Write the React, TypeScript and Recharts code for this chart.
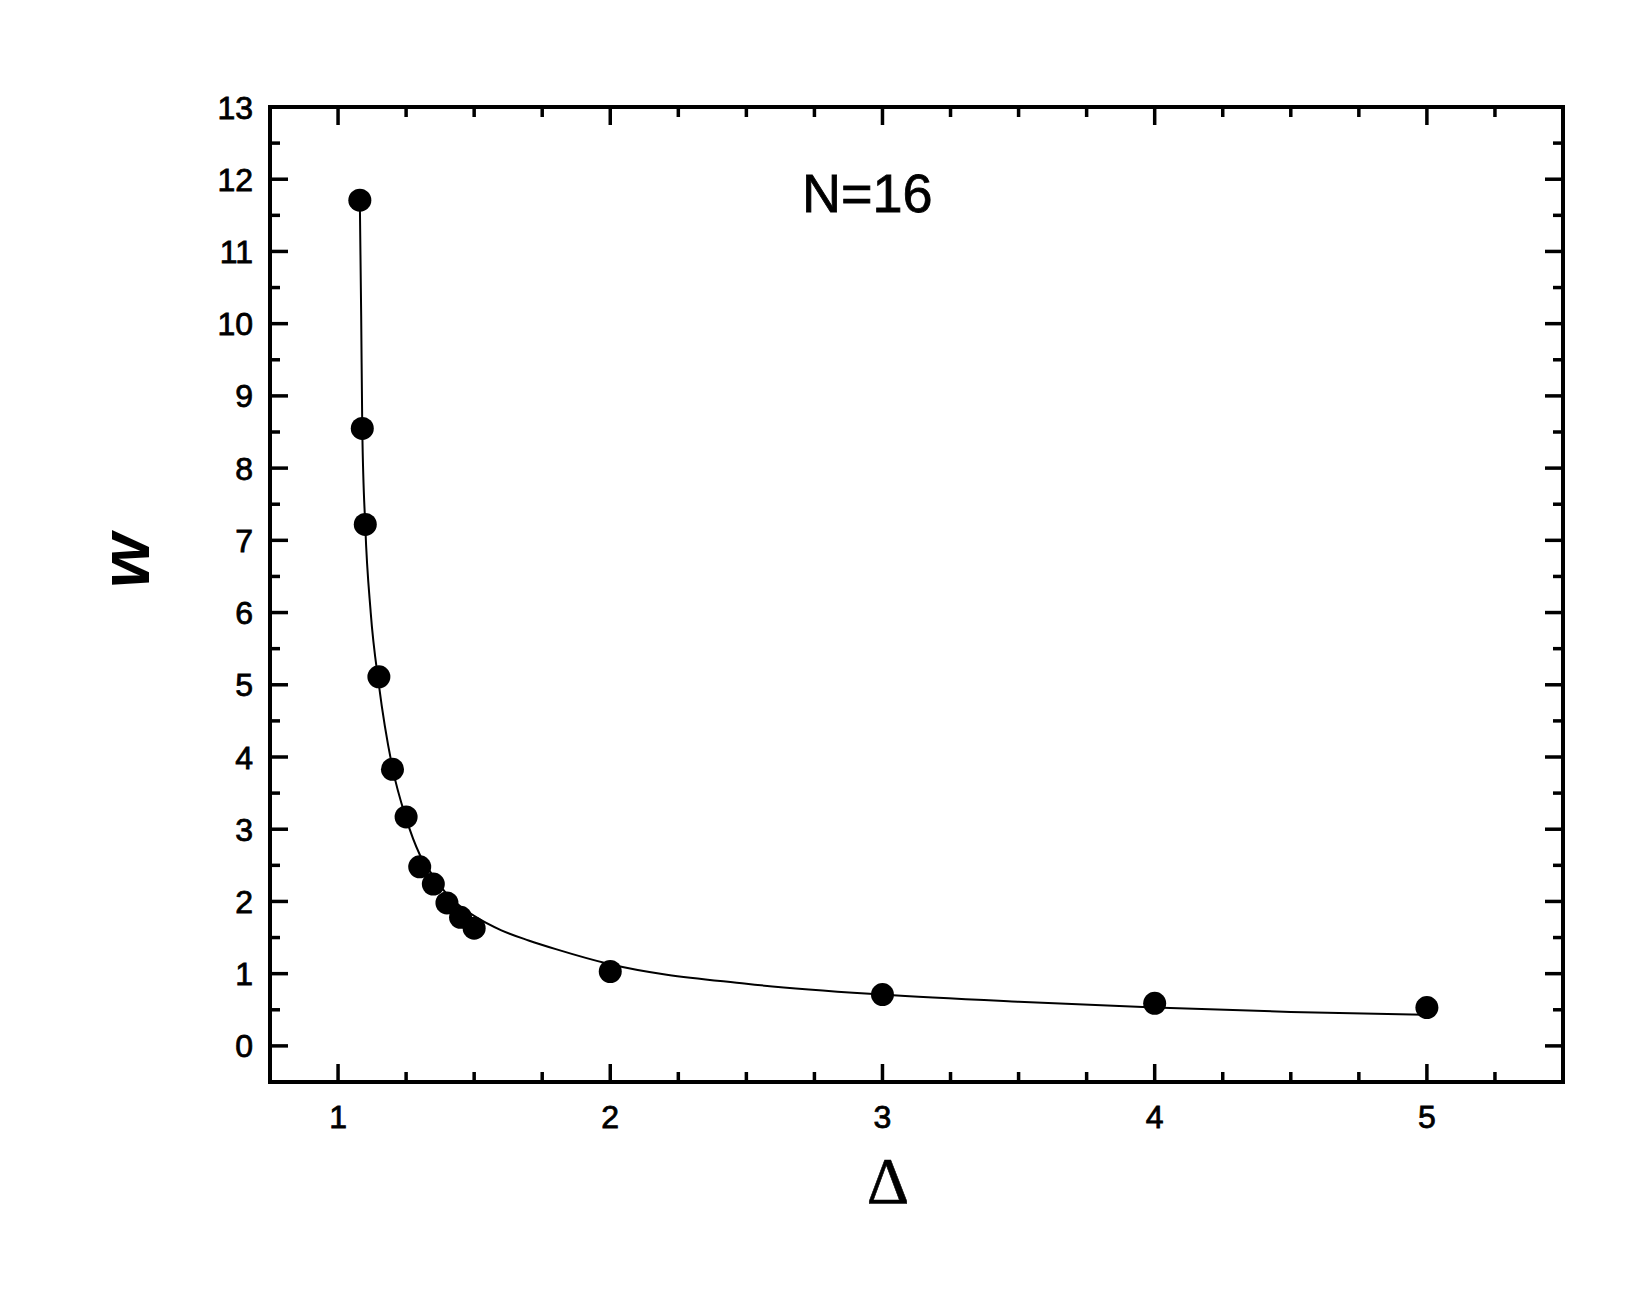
import React from 'react';
import {
  ComposedChart,
  Line,
  Scatter,
  XAxis,
  YAxis,
  ReferenceArea,
} from 'recharts';

// measured points
const deltaPoints = [1.08, 1.089, 1.1, 1.15, 1.2, 1.25, 1.3, 1.35, 1.4, 1.45, 1.5, 2, 3, 4, 5];
const wPoints = [11.71, 8.55, 7.22, 5.11, 3.83, 3.17, 2.48, 2.24, 1.98, 1.78, 1.63, 1.03, 0.71, 0.59, 0.53];

// fitted curve
const deltaFit = [1.08, 1.085, 1.089, 1.1, 1.12, 1.15, 1.2, 1.25, 1.3, 1.35, 1.4, 1.45, 1.5, 1.6, 1.7, 1.8, 2, 2.5, 3, 3.5, 4, 4.5, 5];
const wFit = [11.7, 10.1, 8.55, 7.2, 6.0, 5.0, 3.85, 3.15, 2.65, 2.35, 2.1, 1.93, 1.8, 1.6, 1.46, 1.34, 1.13, 0.86, 0.71, 0.61, 0.53, 0.47, 0.43];

const xTicks = [1, 1.25, 1.5, 1.75, 2, 2.25, 2.5, 2.75, 3, 3.25, 3.5, 3.75, 4, 4.25, 4.5, 4.75, 5, 5.25];
const yTicks = [0, 0.5, 1, 1.5, 2, 2.5, 3, 3.5, 4, 4.5, 5, 5.5, 6, 6.5, 7, 7.5, 8, 8.5, 9, 9.5, 10, 10.5, 11, 11.5, 12, 12.5, 13];

const pointData = deltaPoints.map((x, i) => ({ x, w: wPoints[i] }));
const fitData = deltaFit.map((x, i) => ({ x, w: wFit[i] }));

const W = 1646;
const H = 1300;
const PLOT_W = 1293;
const PLOT_H = 975;
const FONT = '"Liberation Sans", Arial, sans-serif';

const XTick = (props: any) => {
  const { x, y, payload } = props;
  const major = Number.isInteger(payload.value);
  const len = major ? 18 : 10;
  return (
    <g>
      <line x1={x} x2={x} y1={y} y2={y - len} stroke="#000" strokeWidth={3.5} />
      <line x1={x} x2={x} y1={y - PLOT_H} y2={y - PLOT_H + len} stroke="#000" strokeWidth={3.5} />
      {major && (
        <text x={x} y={y + 46} textAnchor="middle" fontFamily={FONT} fontSize={32} fill="#000" stroke="#000" strokeWidth={0.8}>
          {payload.value}
        </text>
      )}
    </g>
  );
};

const YTick = (props: any) => {
  const { x, y, payload } = props;
  const major = Number.isInteger(payload.value);
  const len = major ? 18 : 10;
  return (
    <g>
      <line x1={x} x2={x + len} y1={y} y2={y} stroke="#000" strokeWidth={3.5} />
      <line x1={x + PLOT_W} x2={x + PLOT_W - len} y1={y} y2={y} stroke="#000" strokeWidth={3.5} />
      {major && (
        <text x={x - 17} y={y + 11.5} textAnchor="end" fontFamily={FONT} fontSize={32} fill="#000" stroke="#000" strokeWidth={0.8}>
          {payload.value}
        </text>
      )}
    </g>
  );
};

export default function App() {
  return (
    <div style={{ position: 'absolute', left: 0, top: 0, width: W, height: H, background: '#fff' }}>
      <ComposedChart width={W} height={H} margin={{ top: 107, right: 83, bottom: 158, left: 190 }}>
        <XAxis
          type="number"
          dataKey="x"
          domain={[0.75, 5.5]}
          ticks={xTicks}
          interval={0}
          axisLine={false}
          tickLine={false}
          tickSize={0}
          tickMargin={0}
          height={60}
          tick={XTick}
          allowDataOverflow
          label={{
            content: () => (
              <text x={888} y={1203} textAnchor="middle" fontFamily='"Liberation Serif", "Times New Roman", serif' fontSize={66} fill="#000" stroke="#000" strokeWidth={0.6}>
                Δ
              </text>
            ),
          }}
        />
        <YAxis
          type="number"
          domain={[-0.5, 13]}
          ticks={yTicks}
          interval={0}
          axisLine={false}
          tickLine={false}
          tickSize={0}
          tickMargin={0}
          width={80}
          tick={YTick}
          allowDataOverflow
          label={{
            content: () => (
              <text
                transform="translate(149,561) rotate(-90)"
                textAnchor="middle"
                fontFamily={FONT}
                fontSize={70}
                fontWeight="bold"
                fontStyle="italic"
                fill="#000"
              >
                w
              </text>
            ),
          }}
        />
        <ReferenceArea
          x1={0.75}
          x2={5.5}
          y1={-0.5}
          y2={13}
          fill="none"
          fillOpacity={0}
          stroke="#000"
          strokeWidth={4}
          ifOverflow="visible"
          label={{
            content: (p: any) => (
              <text
                x={p.viewBox.x + p.viewBox.width * 0.462}
                y={p.viewBox.y + 105}
                textAnchor="middle"
                fontFamily={FONT}
                fontSize={54}
                fill="#000"
                stroke="#000"
                strokeWidth={0.8}
              >
                N=16
              </text>
            ),
          }}
        />
        <Line
          data={fitData}
          dataKey="w"
          type="monotone"
          stroke="#000"
          strokeWidth={2}
          dot={false}
          activeDot={false}
          isAnimationActive={false}
        />
        <Scatter
          data={pointData}
          dataKey="w"
          fill="#000"
          isAnimationActive={false}
          shape={(p: any) => <circle cx={p.cx} cy={p.cy} r={11.5} fill="#000" />}
        />
      </ComposedChart>
    </div>
  );
}
